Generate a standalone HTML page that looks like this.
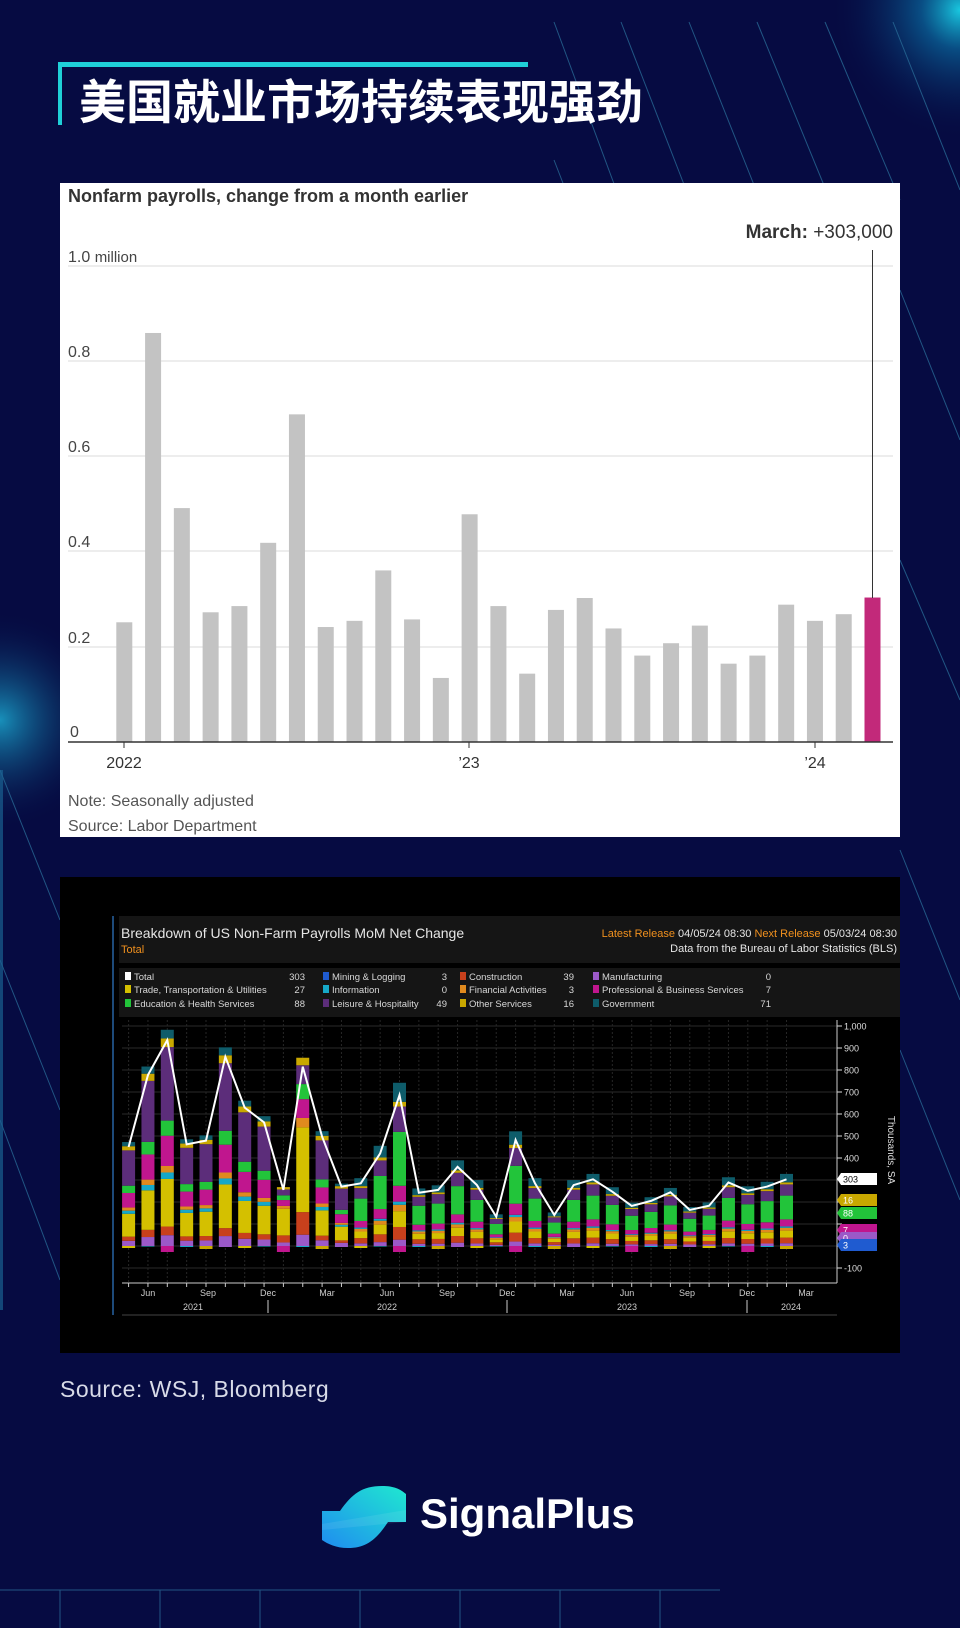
<!DOCTYPE html>
<html><head><meta charset="utf-8">
<style>
html,body{margin:0;padding:0;}
body{width:960px;height:1628px;background:#060b42;position:relative;overflow:hidden;font-family:"Liberation Sans",sans-serif;}
.abs{position:absolute;}
</style></head>
<body>
<svg class="abs" style="left:0;top:0" width="960" height="1628">
<defs>
<radialGradient id="g1" cx="960" cy="10" r="130" gradientUnits="userSpaceOnUse"><stop offset="0" stop-color="#19c8e0"/><stop offset="0.3" stop-color="#0a6aa0" stop-opacity="0.7"/><stop offset="1" stop-color="#060b42" stop-opacity="0"/></radialGradient>
<radialGradient id="g2" cx="0" cy="720" r="110" gradientUnits="userSpaceOnUse"><stop offset="0" stop-color="#1a9fc8" stop-opacity="0.9"/><stop offset="1" stop-color="#060b42" stop-opacity="0"/></radialGradient>
</defs>
<rect width="960" height="1628" fill="#060b42"/>
<rect width="960" height="1628" fill="url(#g1)"/>
<rect width="960" height="1628" fill="url(#g2)"/>
<g stroke="#2a6f9a" stroke-width="1" opacity="0.75">
<line x1="554" y1="22" x2="620" y2="200"/><line x1="621" y1="22" x2="690" y2="200"/><line x1="689" y1="22" x2="760" y2="200"/><line x1="757" y1="22" x2="830" y2="200"/><line x1="825" y1="22" x2="900" y2="200"/><line x1="893" y1="22" x2="960" y2="190"/>
<line x1="554" y1="160" x2="620" y2="330"/><line x1="900" y1="290" x2="960" y2="440"/><line x1="900" y1="560" x2="960" y2="700"/>
<line x1="0" y1="770" x2="60" y2="920"/><line x1="0" y1="960" x2="60" y2="1110"/><line x1="0" y1="1120" x2="60" y2="1280"/>
<line x1="900" y1="850" x2="960" y2="1000"/><line x1="900" y1="1050" x2="960" y2="1200"/>
<line x1="0" y1="1590" x2="720" y2="1590"/>
<line x1="60" y1="1590" x2="60" y2="1628"/><line x1="160" y1="1590" x2="160" y2="1628"/><line x1="260" y1="1590" x2="260" y2="1628"/><line x1="360" y1="1590" x2="360" y2="1628"/><line x1="460" y1="1590" x2="460" y2="1628"/><line x1="560" y1="1590" x2="560" y2="1628"/><line x1="660" y1="1590" x2="660" y2="1628"/>
</g>
<rect x="0" y="770" width="3" height="540" fill="#1a5f90" opacity="0.7"/>
<rect x="58" y="62" width="470" height="5" fill="#1fd0d8"/>
<rect x="58" y="62" width="4" height="63" fill="#1fd0d8"/>
</svg>
<div class="abs" style="left:79px;top:76px;font-family:'Liberation Sans','Noto Sans CJK SC',sans-serif;font-weight:bold;font-size:47px;line-height:54px;color:#fff;letter-spacing:0px;">美国就业市场持续表现强劲</div>

<svg class="abs" style="left:60px;top:183px" width="840" height="654" viewBox="60 183 840 654">
<rect x="60" y="183" width="840" height="654" fill="#fff"/>
<text x="68" y="202" font-size="18" font-weight="bold" fill="#333" font-family="Liberation Sans">Nonfarm payrolls, change from a month earlier</text>
<text x="893" y="238" font-size="19" fill="#333" text-anchor="end" font-family="Liberation Sans"><tspan font-weight="bold">March:</tspan> +303,000</text>
<g stroke="#e2e2e2" stroke-width="1.2">
<line x1="68" y1="266" x2="893" y2="266"/><line x1="68" y1="361" x2="893" y2="361"/><line x1="68" y1="456" x2="893" y2="456"/><line x1="68" y1="551" x2="893" y2="551"/><line x1="68" y1="647" x2="893" y2="647"/>
</g>
<g font-size="16" fill="#444" font-family="Liberation Sans">
<text x="68" y="262">1.0 <tspan font-size="15">million</tspan></text>
<text x="68" y="357">0.8</text><text x="68" y="452">0.6</text><text x="68" y="547">0.4</text><text x="68" y="643">0.2</text><text x="70" y="737">0</text>
</g>
<g id="wsjbars"></g>
<line x1="872.5" y1="250" x2="872.5" y2="598" stroke="#333" stroke-width="1"/>
<line x1="68" y1="742" x2="893" y2="742" stroke="#333" stroke-width="1.5"/>
<g stroke="#333"><line x1="124" y1="742" x2="124" y2="748"/><line x1="469" y1="742" x2="469" y2="748"/><line x1="815" y1="742" x2="815" y2="748"/></g>
<g font-size="16" fill="#333" text-anchor="middle" font-family="Liberation Sans"><text x="124" y="768">2022</text><text x="469" y="768">’23</text><text x="815" y="768">’24</text></g>
<g font-size="16" fill="#555" font-family="Liberation Sans"><text x="68" y="806">Note: Seasonally adjusted</text><text x="68" y="831">Source: Labor Department</text></g>
</svg>

<svg class="abs" style="left:60px;top:877px" width="840" height="476" viewBox="60 877 840 476" font-family="Liberation Sans">
<rect x="60" y="877" width="840" height="476" fill="#000"/>
<line x1="113" y1="916" x2="113" y2="1315" stroke="#1d4a7a" stroke-width="2"/>
<rect x="119" y="916" width="781" height="47" fill="#151515"/>
<text x="121" y="938" font-size="14" fill="#e6e6e6">Breakdown of US Non-Farm Payrolls MoM Net Change</text>
<text x="121" y="953" font-size="11" fill="#f0901e">Total</text>
<text x="897" y="937" font-size="11" text-anchor="end" fill="#e6e6e6"><tspan fill="#f0901e">Latest Release</tspan> 04/05/24 08:30 <tspan fill="#f0901e">Next Release</tspan> 05/03/24 08:30</text>
<text x="897" y="952" font-size="11" text-anchor="end" fill="#e6e6e6">Data from the Bureau of Labor Statistics (BLS)</text>
<rect x="119" y="968" width="781" height="49" fill="#151515"/>
<g font-size="9.5" fill="#d8d8d8" id="legend"></g>
<g id="bb"></g>
</svg>

<div class="abs" style="left:60px;top:1376px;font-size:23px;color:#d8dbe8;letter-spacing:0.5px;">Source: WSJ, Bloomberg</div>

<svg class="abs" style="left:322px;top:1484px" width="86" height="66" viewBox="0 0 86 66">
<defs><linearGradient id="lg" x1="0" y1="1" x2="1" y2="0"><stop offset="0" stop-color="#1f8cf0"/><stop offset="1" stop-color="#1fe8d0"/></linearGradient></defs>
<path d="M0 27 L18 27 C30 10 40 2 60 2 C72 2 78 5 84 10 L84 38 L66 38 C54 56 44 64 26 64 C14 64 6 60 0 56 Z" fill="url(#lg)"/>
<path d="M0 40 L84 26 L84 38 L0 46 Z" fill="#fff" opacity="0.08"/>
</svg>
<div class="abs" style="left:420px;top:1486px;font-size:42px;font-weight:bold;color:#fff;line-height:56px;">SignalPlus</div>

<script>
var NS="http://www.w3.org/2000/svg";
function el(p,t,a,txt){var e=document.createElementNS(NS,t);for(var k in a)e.setAttribute(k,a[k]);if(txt!=null)e.textContent=txt;p.appendChild(e);return e;}
var wv=[.251,.859,.491,.272,.285,.418,.688,.241,.254,.360,.257,.134,.478,.285,.143,.277,.302,.238,.181,.207,.244,.164,.181,.288,.254,.268,.303];
var wg=document.getElementById('wsjbars');
wv.forEach(function(v,i){var cx=124.3+i*(872.5-124.3)/26;var h=v*475.8;
el(wg,'rect',{x:cx-8,y:741.7-h,width:16,height:h,fill:i==26?'#c2297a':'#c3c3c3'});});
var bb=document.getElementById('bb');
var Z=1246,S=0.22,L=122,R=837;
for(var v=-100;v<=1000;v+=100){var y=Z-v*S;el(bb,'line',{x1:L,y1:y,x2:R,y2:y,stroke:'#2a2a2a','stroke-width':1});
el(bb,'line',{x1:R,y1:y,x2:R+5,y2:y,stroke:'#ddd'});
if(v!=0&&v!=300&&v!=200&&v!=100)el(bb,'text',{x:R+7,y:y+3.5,'font-size':9,fill:'#ddd'},v==1000?'1,000':String(v));}
var sp=19.35,x0=128.6;
for(var i=0;i<35;i++){var x=x0+i*sp;el(bb,'line',{x1:x,y1:1020,x2:x,y2:1283,stroke:'#262626','stroke-dasharray':'2,2'});}
el(bb,'line',{x1:R,y1:1020,x2:R,y2:1283,stroke:'#ccc'});
el(bb,'line',{x1:L,y1:1283,x2:R,y2:1283,stroke:'#ccc'});
for(var i=0;i<35;i++){var x=x0+i*sp;el(bb,'line',{x1:x,y1:1283,x2:x,y2:1287,stroke:'#ccc'});}
[['Jun',148],['Sep',208],['Dec',268],['Mar',327],['Jun',387],['Sep',447],['Dec',507],['Mar',567],['Jun',627],['Sep',687],['Dec',747],['Mar',806]].forEach(function(m){el(bb,'text',{x:m[1],y:1296,'font-size':9,fill:'#ccc','text-anchor':'middle'},m[0]);});
[['2021',193],['2022',387],['2023',627],['2024',791]].forEach(function(m){el(bb,'text',{x:m[1],y:1310,'font-size':9,fill:'#ccc','text-anchor':'middle'},m[0]);});
[268,507,747].forEach(function(x){el(bb,'line',{x1:x,y1:1300,x2:x,y2:1313,stroke:'#ccc'});});
el(bb,'line',{x1:L,y1:1315,x2:R,y2:1315,stroke:'#444'});
var C={mfg:'#9b59c8',con:'#c8401c',mine:'#1f5bd0',trade:'#d4c000',fin:'#e08a1e',info:'#16a8c8',prof:'#c0168e',edu:'#22c43a',lei:'#5c2d7a',oth:'#c9a800',gov:'#0e5c6a'};
var tot=[450,777,936,462,479,860,629,562,255,815,497,270,285,421,686,242,255,360,277,133,482,285,141,277,303,247,182,205,244,164,183,289,251,270,303];
var early=[['mfg',.05],['con',.04],['trade',.22],['info',.03],['fin',.03],['prof',.14],['edu',.07],['lei',.34],['oth',.04],['gov',.04]];
var late=[['mfg',.04],['con',.08],['trade',.1],['fin',.04],['info',.02],['prof',.1],['edu',.34],['lei',.16],['oth',.03],['gov',.12]];
var negc=[C.trade,C.gov,C.prof,C.info,C.oth,C.mfg];
for(var i=0;i<35;i++){var x=x0+i*sp-6.5,T=tot[i];var comp=i<12?early:late;
if(i==8||i==9){comp=[['mfg',.06],['con',.12],['trade',.45],['fin',.05],['prof',.1],['edu',.08],['lei',.1],['oth',.04]];}
var y=Z;comp.forEach(function(c){var h=T*c[1]*1.05*S;y-=h;el(bb,'rect',{x:x,y:y,width:13,height:h,fill:C[c[0]]});});
var nh=[2,1,6,1,3,1][i%6];el(bb,'rect',{x:x,y:Z,width:13,height:nh,fill:negc[i%6]});}
var pts=tot.map(function(t,i){return (x0+i*sp)+','+(Z-t*S);}).join(' ');
el(bb,'polyline',{points:pts,fill:'none',stroke:'#fff','stroke-width':2});
[['303',1179,'#fff','#000'],['16',1200,'#c9a800','#fff'],['88',1213,'#22c43a','#fff'],['7',1230,'#c0168e','#fff'],['0',1238,'#9b59c8','#fff'],['3',1245,'#1f5bd0','#fff']].forEach(function(t){
el(bb,'path',{d:'M837 '+t[1]+' l4 -6 h36 v12 h-36 z',fill:t[2]});el(bb,'text',{x:843,y:t[1]+3.5,'font-size':9,fill:t[3]},t[0]);});
el(bb,'text',{x:888,y:1150,'font-size':10,fill:'#ddd','text-anchor':'middle',transform:'rotate(90 888 1150)'},'Thousands, SA');
var lg=document.getElementById('legend');
var items=[[127,305,980,'#fff','Total','303'],[325,447,980,C.mine,'Mining & Logging','3'],[462,574,980,C.con,'Construction','39'],[595,771,980,C.mfg,'Manufacturing','0'],
[127,305,993,C.trade,'Trade, Transportation & Utilities','27'],[325,447,993,C.info,'Information','0'],[462,574,993,C.fin,'Financial Activities','3'],[595,771,993,C.prof,'Professional & Business Services','7'],
[127,305,1007,C.edu,'Education & Health Services','88'],[325,447,1007,C.lei,'Leisure & Hospitality','49'],[462,574,1007,C.oth,'Other Services','16'],[595,771,1007,C.gov,'Government','71']];
items.forEach(function(t){el(lg,'rect',{x:t[0]-2,y:t[2]-8,width:6,height:8,fill:t[3]});el(lg,'text',{x:t[0]+7,y:t[2]},t[4]);el(lg,'text',{x:t[1],y:t[2],'text-anchor':'end'},t[5]);});
</script>
</body></html>
